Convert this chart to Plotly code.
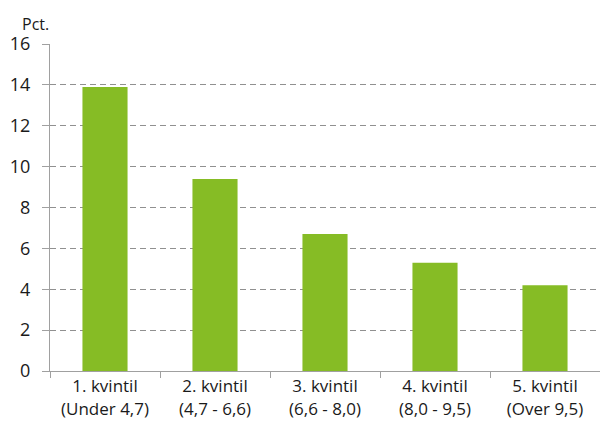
import plotly.graph_objects as go

categories = ["1. kvintil<br>(Under 4,7)", "2. kvintil<br>(4,7 - 6,6)", "3. kvintil<br>(6,6 - 8,0)",
              "4. kvintil<br>(8,0 - 9,5)", "5. kvintil<br>(Over 9,5)"]
values = [13.9, 9.4, 6.7, 5.3, 4.2]
y_ticks = [0, 2, 4, 6, 8, 10, 12, 14, 16]

fig = go.Figure()
fig.add_trace(go.Bar(x=categories, y=values, marker={"color": "#86BC25", "line": {"width": 0}}, width=0.41))

# page has an 8px body margin, so the figure is sized to fit the window
fig.update_layout(
    width=600, height=425,
    margin={"l": 42, "r": 8, "t": 36, "b": 62},
    paper_bgcolor="white", plot_bgcolor="white",
    showlegend=False,
    font={"family": "Open Sans, sans-serif", "size": 17, "color": "#1a1a1a"},
    annotations=[{"text": "Pct.", "xref": "paper", "yref": "paper", "x": -0.055, "y": 1.022,
                  "xanchor": "left", "yanchor": "bottom", "showarrow": False,
                  "font": {"size": 16, "color": "#1a1a1a"}}],
)
fig.update_xaxes(
    automargin=False,
    showline=True, linecolor="#a0a0a0", linewidth=1,
    ticks="outside", tickson="boundaries", ticklen=6, tickcolor="#a0a0a0",
    showgrid=False, tickfont={"size": 17},
)
fig.update_yaxes(
    automargin=False,
    range=[0, 16], tickvals=y_ticks, showline=True, linecolor="#a0a0a0", linewidth=1,
    ticks="outside", ticklen=7, tickcolor="#a0a0a0", ticklabelstandoff=8,
    showgrid=True, gridcolor="#909090", griddash="6px,4px", gridwidth=1,
    zeroline=False, tickfont={"size": 18},
)

fig.write_html("out.html")
